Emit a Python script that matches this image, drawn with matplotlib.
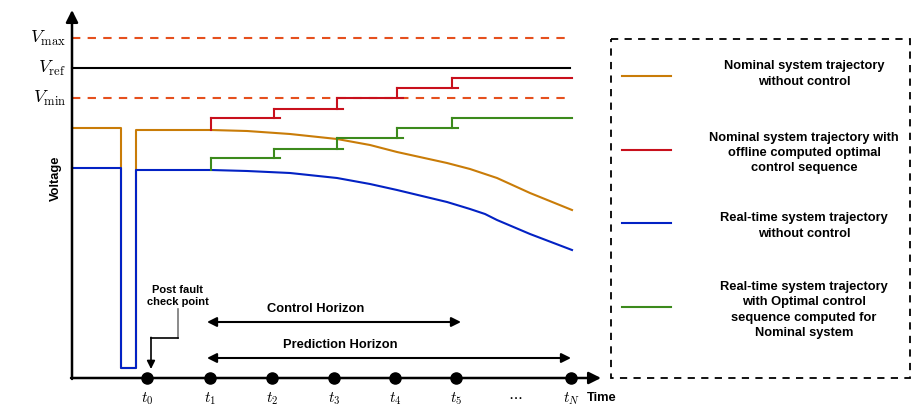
import numpy as np
import matplotlib.pyplot as plt
from matplotlib.patches import Rectangle

plt.rcParams['font.family'] = ['Liberation Sans', 'DejaVu Sans']
plt.rcParams['mathtext.fontset'] = 'cm'

# Data, in the drawing frame of the sketch (x: time, y: voltage drawn downwards)
t_names = ['$t_0$', '$t_1$', '$t_2$', '$t_3$', '$t_4$', '$t_5$', '$t_N$']
t_pos = [147, 210, 272, 334, 395, 456, 571]

v_names = [r'$V_{\mathrm{max}}$', r'$V_{\mathrm{ref}}$', r'$V_{\mathrm{min}}$']
v_levels = [38, 68, 98]

# nominal system trajectory without control
nom_x = [72, 121, 121, 136, 136, 180, 211, 247, 290, 337, 370, 397, 447, 470, 485, 497, 530, 572]
nom_y = [128, 128, 368, 368, 130, 130, 130, 131, 134, 139, 145, 152, 163, 169, 174, 178, 193, 210]

# real-time system trajectory without control
rt_x = [72, 121, 121, 136, 136, 180, 211, 247, 290, 337, 370, 397, 447, 470, 485, 497, 530, 572]
rt_y = [168, 168, 368, 368, 170, 170, 170, 171, 173, 178, 184, 190, 202, 209, 214, 220, 234, 250]

# step instants and control sequence levels
step_x = [211, 274, 337, 397, 452, 572]
red_levels = [130, 118, 109, 98, 88, 78]
green_levels = [170, 158, 149, 138, 128, 118]

horizons = ['Control Horizon', 'Prediction Horizon']
horizon_span = [(207, 461), (207, 571)]
horizon_y = [322, 358]
horizon_label_x = [316, 340]

legend_texts = [
    'Nominal system trajectory\nwithout control',
    'Nominal system trajectory with\noffline computed optimal\ncontrol sequence',
    'Real-time system trajectory\nwithout control',
    'Real-time system trajectory\nwith Optimal control\nsequence computed for\nNominal system',
]
legend_y = [76, 150, 223, 307]
legend_text_y = [74, 153, 226, 310]

c_orange = '#C97C08'
c_red = '#C8101C'
c_blue = '#0322C4'
c_green = '#3C8A1C'
c_dash = '#E5501E'

fig = plt.figure(figsize=(9.12, 4.19), dpi=100)
ax = fig.add_axes([0, 0, 1, 1])
ax.set_xlim(0, 912)
ax.set_ylim(419, 0)
ax.axis('off')

# limits
ax.plot([72, 570], [v_levels[0]] * 2, color=c_dash, lw=1.5, dashes=(4, 3.5))
ax.plot([72, 570], [v_levels[1]] * 2, color='black', lw=1.5)
ax.plot([72, 570], [v_levels[2]] * 2, color=c_dash, lw=1.5, dashes=(4, 3.5))
for name, lv in zip(v_names, v_levels):
    ax.text(66, lv, name, ha='right', va='center', fontsize=13)


def draw_steps(levels, color):
    for i in range(len(step_x) - 1):
        ax.plot([step_x[i], step_x[i]], [levels[i], levels[i + 1]], color=color, lw=1.5)
        end = step_x[i + 1] + 6 if i < len(step_x) - 2 else step_x[i + 1]
        ax.plot([step_x[i], end], [levels[i + 1]] * 2, color=color, lw=1.5)


ax.plot(nom_x, nom_y, color=c_orange, lw=1.5)
ax.plot(rt_x, rt_y, color=c_blue, lw=1.5)
draw_steps(red_levels, c_red)
draw_steps(green_levels, c_green)

# axes with arrows
ax.annotate('', xy=(72, 10), xytext=(72, 379),
            arrowprops=dict(arrowstyle='-|>', lw=1.8, color='black',
                            mutation_scale=18, shrinkA=0, shrinkB=0))
ax.annotate('', xy=(601, 378), xytext=(71, 378),
            arrowprops=dict(arrowstyle='-|>', lw=1.8, color='black',
                            mutation_scale=18, shrinkA=0, shrinkB=0))
ax.text(56, 178, 'Voltage', rotation=90, ha='center', va='center',
        fontsize=9.3, fontweight='bold')

ax.plot(t_pos, [378] * len(t_pos), 'o', color='black', ms=8)
for name, x in zip(t_names, t_pos):
    ax.text(x, 399, name, ha='center', va='center', fontsize=11)
ax.text(515, 396, r'$\cdots$', ha='center', va='center', fontsize=11)
ax.text(587, 398, 'Time', ha='left', va='center', fontsize=9.3, fontweight='bold')

# horizons
for label, (x0, x1), yy, lx in zip(horizons, horizon_span, horizon_y, horizon_label_x):
    ax.annotate('', xy=(x1, yy), xytext=(x0, yy),
                arrowprops=dict(arrowstyle='<|-|>', lw=1.5, color='black',
                                mutation_scale=14, shrinkA=0, shrinkB=0))
    ax.text(lx, yy - 13, label, ha='center', va='center', fontsize=9.3,
            fontweight='bold')

# post fault check point
ax.text(178, 296, 'Post fault\ncheck point', ha='center', va='center',
        fontsize=8, fontweight='bold', linespacing=1.25)
ax.plot([178, 178], [309, 338], color='#777777', lw=1.2)
ax.plot([178, 151], [338, 338], color='black', lw=1.2)
ax.annotate('', xy=(151, 369), xytext=(151, 337.4),
            arrowprops=dict(arrowstyle='-|>', lw=1.2, color='black',
                            mutation_scale=12, shrinkA=0, shrinkB=0))

# legend box
ax.add_patch(Rectangle((611, 39), 299, 339, fill=False, edgecolor='black',
                       lw=1.3, linestyle=(0, (4, 3.5))))
for col, ly, txt, ty in zip([c_orange, c_red, c_blue, c_green], legend_y,
                            legend_texts, legend_text_y):
    ax.plot([622, 671], [ly, ly], color=col, lw=1.5)
    ax.text(804, ty, txt, ha='center', va='center', fontsize=9.3,
            fontweight='bold', linespacing=1.35)

fig.savefig('out.png', dpi=100)
